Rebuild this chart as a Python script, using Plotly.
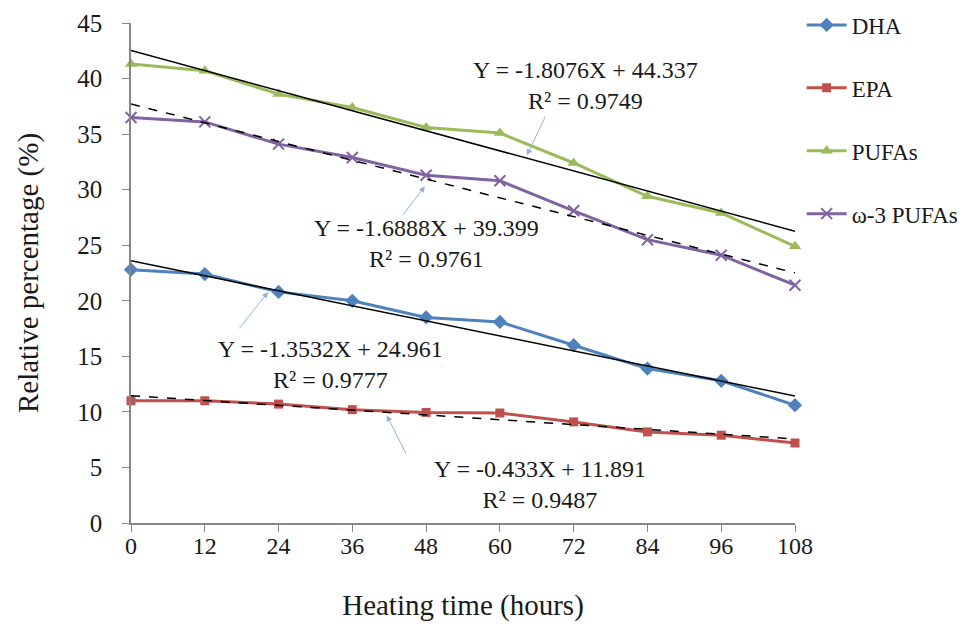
import plotly.graph_objects as go

hours = [0, 12, 24, 36, 48, 60, 72, 84, 96, 108]
dha = [22.8, 22.4, 20.8, 20.0, 18.5, 18.1, 16.0, 13.9, 12.8, 10.6]
epa = [11.0, 11.0, 10.7, 10.2, 9.95, 9.9, 9.1, 8.2, 7.9, 7.2]
pufas = [41.3, 40.7, 38.6, 37.4, 35.6, 35.1, 32.4, 29.4, 27.9, 24.9]
omega3 = [36.5, 36.1, 34.1, 32.9, 31.3, 30.8, 28.1, 25.5, 24.1, 21.4]

series_names = ["DHA", "EPA", "PUFAs", "ω-3 PUFAs"]
series_colors = ["#4F81BD", "#C0504D", "#9BBB59", "#8064A2"]
series_symbols = ["diamond", "square", "triangle-up", "x-thin"]
series_msize = [11, 9, 11, 11]

# Excel linear trendlines: Y = slope * X + intercept, X = point index (1..10)
trend_slope = [-1.3532, -0.433, -1.8076, -1.6888]
trend_intercept = [24.961, 11.891, 44.337, 39.399]
trend_r2 = ["0.9777", "0.9487", "0.9749", "0.9761"]
trend_dash = ["solid", "dash", "solid", "dash"]

FONT = "Liberation Serif, Times New Roman, serif"
TXT = "#1a1a1a"

fig = go.Figure()
data = [dha, epa, pufas, omega3]
for i, (name, vals) in enumerate(zip(series_names, data)):
    sym = series_symbols[i]
    fig.add_trace(go.Scatter(
        x=hours, y=vals, mode="lines+markers", name=name,
        line=dict(color=series_colors[i], width=3),
        marker=dict(symbol=sym, size=series_msize[i],
                    color=series_colors[i],
                    line=dict(color=series_colors[i], width=2 if sym == "x-thin" else 0)),
        cliponaxis=False, legendgroup=name,
    ))

for i in range(4):
    idx = list(range(1, len(hours) + 1))
    ty = [trend_slope[i] * k + trend_intercept[i] for k in idx]
    fig.add_trace(go.Scatter(
        x=hours, y=ty, mode="lines", showlegend=False, hoverinfo="skip",
        line=dict(color="black", width=1.5, dash=trend_dash[i]),
        cliponaxis=False,
    ))

def eq_text(i):
    s = trend_slope[i]
    return f"Y = {s:g}X + {trend_intercept[i]:g}<br>R² = {trend_r2[i]}"

# equation label positions (data coords) and arrow heads
eq_pos = {0: (32.5, 14.3), 1: (66.5, 3.5), 2: (74.0, 39.4), 3: (48.0, 25.2)}
arrow_pos = {0: (22.3, 20.8, -30, 38), 1: (41.6, 9.7, 20, 40),
             2: (64.4, 33.1, 19, -40), 3: (47.8, 30.3, -23, 30)}

annotations = []
for i in range(4):
    x, y = eq_pos[i]
    annotations.append(dict(x=x, y=y, xref="x", yref="y", text=eq_text(i),
                            showarrow=False, font=dict(family=FONT, size=24, color=TXT)))
    hx, hy, ax, ay = arrow_pos[i]
    annotations.append(dict(x=hx, y=hy, xref="x", yref="y", text="", showarrow=True,
                            ax=ax, ay=ay, arrowhead=2, arrowsize=1.2, arrowwidth=1,
                            arrowcolor="#95B3D7", standoff=0))

fig.update_layout(
    width=961, height=622,
    margin=dict(l=123, r=174, t=15, b=107, autoexpand=False),
    plot_bgcolor="white", paper_bgcolor="white",
    font=dict(family=FONT, size=24, color=TXT),
    showlegend=True,
    legend=dict(x=1.01, y=1.039, xanchor="left", yanchor="top",
                font=dict(family=FONT, size=23, color=TXT),
                tracegroupgap=30, itemwidth=40, bgcolor="rgba(0,0,0,0)"),
    annotations=annotations,
)
fig.update_xaxes(range=[0, 108], tickvals=hours, ticktext=[str(h) for h in hours],
                 showgrid=False, zeroline=False, showline=True, linecolor="#868686",
                 linewidth=1.5, ticks="outside", ticklen=7, tickcolor="#868686",
                 tickfont=dict(family=FONT, size=24, color=TXT), ticklabelstandoff=-7, automargin=False,
                 title=dict(text="Heating time (hours)", font=dict(family=FONT, size=29, color=TXT), standoff=37))
fig.update_yaxes(range=[0, 45], dtick=5, showgrid=False, zeroline=False, showline=True,
                 linecolor="#868686", linewidth=1.5, ticks="outside", ticklen=7,
                 tickcolor="#868686", tickfont=dict(family=FONT, size=25, color=TXT),
                 ticklabelstandoff=15, automargin=False,
                 title=dict(text="Relative percentage (%)", font=dict(family=FONT, size=29, color=TXT), standoff=30))

fig.write_html("out.html")
